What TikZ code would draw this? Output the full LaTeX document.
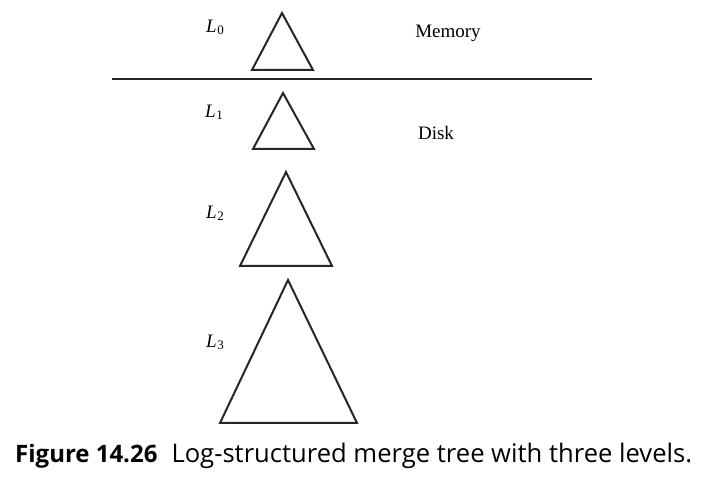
\documentclass[tikz,border=0pt]{standalone}
\usepackage{fontspec}
\setmainfont{Liberation Serif}
\newfontfamily\captionfont{Open Sans}
\usetikzlibrary{positioning}

\newcommand{\lvl}[1]{\textit{L}\kern0.5pt\raisebox{-0.25ex}{\fontsize{13}{13}\selectfont #1}}

\begin{document}
\begin{tikzpicture}[
    x=1pt, y=-1pt,
    tree/.style={draw=black!85, line width=2pt, line join=miter},
    divider/.style={draw=black!85, line width=2pt},
    level/.style={font=\fontsize{19}{22}\selectfont, inner sep=0pt},
    label/.style={font=\fontsize{19}{22}\selectfont, inner sep=0pt},
    caption/.style={font=\captionfont\fontsize{24}{28}\selectfont, inner sep=0pt, anchor=west}
]
\useasboundingbox (0,0) rectangle (702,502);

% Memory / disk boundary
\coordinate (divl) at (112,79);
\coordinate (divr) at (592,79);
\draw[divider] (divl) -- (divr);

% Trees, one per level
\draw[tree] (282,13) -- (252,70) -- (313,70) -- cycle;
\draw[tree] (283,93) -- (253,149) -- (314,149) -- cycle;
\draw[tree] (286,172) -- (240,266) -- (332,266) -- cycle;
\draw[tree] (288,280) -- (220,423) -- (357,423) -- cycle;

% Level names
\node[level] (l0) at (215,27) {\lvl{0}};
\node[level] (l1) at (214,112) {\lvl{1}};
\node[level] (l2) at (215,213) {\lvl{2}};
\node[level] (l3) at (215,342) {\lvl{3}};

% Storage names
\node[label] (memory) at (448,33) {Memory};
\node[label] (disk) at (436,133) {Disk};

% Caption
\node[caption] (cap) at (15,456) {\textbf{Figure 14.26}\hspace{14pt}{\fontsize{25.6}{28}\selectfont Log-structured merge tree with three levels.}};

\end{tikzpicture}
\end{document}
